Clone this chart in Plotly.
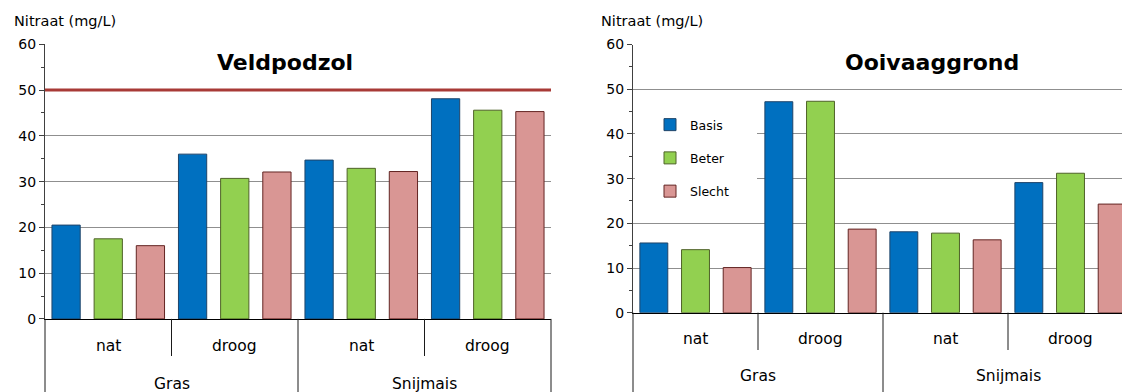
import plotly.graph_objects as go

# ---------------- data ----------------
CROPS = ["Gras", "Snijmais"]
MOISTURE = ["nat", "droog"]
SERIES = ["Basis", "Beter", "Slecht"]
PANELS = ["Veldpodzol", "Ooivaaggrond"]
Y_TITLE = "Nitraat (mg/L)"
NORM = 50
Y_TICKS = [0, 10, 20, 30, 40, 50, 60]

# order: Gras-nat, Gras-droog, Snijmais-nat, Snijmais-droog
veldpodzol_basis = [20.5, 36.0, 34.7, 48.1]
veldpodzol_beter = [17.5, 30.7, 32.9, 45.6]
veldpodzol_slecht = [16.0, 32.1, 32.2, 45.3]

ooivaag_basis = [15.6, 47.2, 18.1, 29.1]
ooivaag_beter = [14.1, 47.3, 17.8, 31.2]
ooivaag_slecht = [10.1, 18.7, 16.3, 24.3]

# ---------------- styling ----------------
W, H = 1122, 392
FONT = "DejaVu Sans"
FILL = {"Basis": "#0070C0", "Beter": "#92D050", "Slecht": "#D99694"}
EDGE = {"Basis": "#1F4469", "Beter": "#4F6228", "Slecht": "#632523"}
GRID = "#8F8F8F"
AXIS = "#404040"


def px_x(p):
    return p / W


def px_y(p):
    return (H - p) / H


outer = [c for c in CROPS for _ in MOISTURE]
inner = [m for _ in CROPS for m in MOISTURE]
xcats = [outer, inner]
n_cat = len(inner)

panel_values = {
    "Veldpodzol": [veldpodzol_basis, veldpodzol_beter, veldpodzol_slecht],
    "Ooivaaggrond": [ooivaag_basis, ooivaag_beter, ooivaag_slecht],
}

# panel geometry (pixels)
geo = {
    "Veldpodzol": dict(x0=45, x1=551, ybot=318.9, ytop=44.3, xend=n_cat - 0.5,
                       inner_len=356, title_x=285, ytitle_x=11.7,
                       lab_in=345.5, lab_out=383.5),
    "Ooivaaggrond": dict(x0=633, x1=W, ybot=312.7, ytop=44.5, xend=3.412,
                         inner_len=350, title_x=932, ytitle_x=599,
                         lab_in=339, lab_out=376),
}

fig = go.Figure()
annotations = []
shapes = []

for k, panel in enumerate(PANELS):
    g = geo[panel]
    sfx = "" if k == 0 else str(k + 1)
    for s, vals in zip(SERIES, panel_values[panel]):
        fig.add_trace(go.Bar(
            x=xcats, y=vals, name=s,
            marker=dict(color=FILL[s], line=dict(color=EDGE[s], width=1)),
            xaxis="x" + sfx, yaxis="y" + sfx,
            showlegend=(k == 1), legendgroup=s,
        ))

    xa = dict(
        domain=[px_x(g["x0"]), px_x(g["x1"])],
        range=[-0.5, g["xend"]],
        anchor="y" + sfx,
        showticklabels=False, ticks="", showgrid=False,
        showline=True, linecolor="#000000", linewidth=1,
        showdividers=False, zeroline=False,
    )
    ya = dict(
        domain=[px_y(g["ybot"]), px_y(g["ytop"])],
        range=[0, 60], tickvals=Y_TICKS,
        anchor="x" + sfx,
        showline=True, linecolor=AXIS, linewidth=1,
        ticks="outside", ticklen=5, tickcolor=AXIS, tickwidth=1,
        showgrid=True, gridcolor=GRID, gridwidth=1, zeroline=False,
        minor=dict(dtick=5, ticks="outside", ticklen=3, tickcolor=AXIS,
                   showgrid=False),
        tickfont=dict(size=14, color="#000000"),
    )
    fig.layout["xaxis" + sfx] = xa
    fig.layout["yaxis" + sfx] = ya

    span = g["xend"] + 0.5
    xref = "x" + sfx + " domain"

    # category labels
    for i, lab in enumerate(inner):
        fx = (i + 0.5) / span
        if fx < 1:
            annotations.append(dict(
                text=lab, xref=xref, yref="paper", x=fx, y=px_y(g["lab_in"]),
                xanchor="center", yanchor="middle", showarrow=False,
                font=dict(size=15.5, color="#000000")))
    for j, crop in enumerate(CROPS):
        fx = (j * len(MOISTURE) + len(MOISTURE) / 2) / span
        annotations.append(dict(
            text=crop, xref=xref, yref="paper", x=fx, y=px_y(g["lab_out"]),
            xanchor="center", yanchor="middle", showarrow=False,
            font=dict(size=15.5, color="#000000")))

    # divider lines between categories
    for b in range(n_cat + 1):
        fx = b / span
        if fx > 1.0001:
            continue
        y_end = 0 if b % len(MOISTURE) == 0 else px_y(g["inner_len"])
        shapes.append(dict(
            type="line", xref=xref, yref="paper", x0=fx, x1=fx,
            y0=px_y(g["ybot"]), y1=y_end,
            line=dict(color="#1A1A1A", width=1)))

    # panel title
    annotations.append(dict(
        text="<b>%s</b>" % panel, xref="paper", yref="paper",
        x=px_x(g["title_x"]), y=px_y(63), xanchor="center", yanchor="middle",
        showarrow=False, font=dict(size=22, color="#000000")))
    # y-axis title
    annotations.append(dict(
        text=Y_TITLE, xref="paper", yref="paper",
        x=px_x(g["ytitle_x"]), y=px_y(21), xanchor="left", yanchor="middle",
        showarrow=False, font=dict(size=14.5, color="#000000")))

# white area behind legend (masks gridlines like the original)
shapes.append(dict(type="rect", xref="x2 domain", yref="y2", x0=0.004,
                   x1=(757 - 633) / (W - 633), y0=24, y1=47,
                   fillcolor="#FFFFFF", line=dict(width=0), layer="above"))

# norm line on Veldpodzol
shapes.append(dict(type="line", xref="x domain", yref="y", x0=0, x1=1,
                   y0=NORM, y1=NORM, line=dict(color="#A83A36", width=3),
                   layer="above"))

fig.update_layout(
    width=W, height=H,
    margin=dict(l=0, r=0, t=0, b=0, autoexpand=False),
    paper_bgcolor="#FFFFFF", plot_bgcolor="#FFFFFF",
    font=dict(family=FONT, color="#000000"),
    barmode="group", bargap=0, bargroupgap=0.33,
    showlegend=True,
    legend=dict(x=px_x(650), y=px_y(110), xanchor="left", yanchor="top",
                font=dict(size=12.5, color="#000000"), tracegroupgap=14,
                bgcolor="rgba(255,255,255,0)", traceorder="grouped"),
    annotations=annotations,
    shapes=shapes,
)

fig.write_html("out.html", config={"displayModeBar": False})
